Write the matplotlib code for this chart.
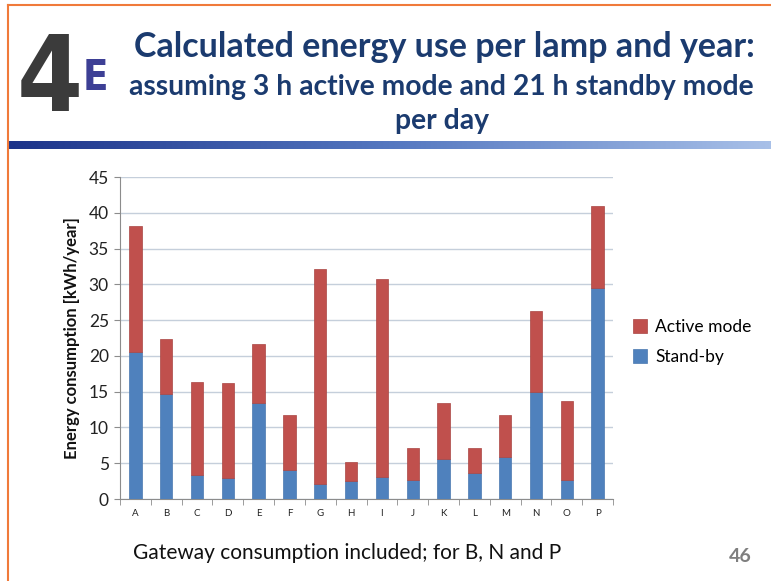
import matplotlib.pyplot as plt
import numpy as np
from matplotlib.colors import LinearSegmentedColormap

lamps = list("ABCDEFGHIJKLMNOP")
standby = [20.5, 14.7, 3.3, 3.0, 13.4, 4.1, 2.1, 2.5, 3.1, 2.6, 5.6, 3.6, 5.9, 15.0, 2.7, 29.5]
total = [38.2, 22.4, 16.3, 16.2, 21.6, 11.8, 32.1, 5.2, 30.7, 7.1, 13.4, 7.1, 11.7, 26.3, 13.7, 41.0]
active = [t - s for t, s in zip(total, standby)]
y_ticks = list(range(0, 50, 5))

W, H = 771, 581
fig = plt.figure(figsize=(W / 100, H / 100), dpi=100)
fig.patch.set_facecolor("white")
plt.rcParams["font.family"] = ["Lato", "DejaVu Sans"]

def px(x, y):
    return x / W, 1 - y / H

# slide frame: orange border, gradient rule under the heading
fig.add_artist(plt.Line2D([8 / W, 1], [1 - 5 / H] * 2, color="#f07a3a", lw=1.5))
fig.add_artist(plt.Line2D([8 / W] * 2, [0, 1 - 5 / H], color="#f07a3a", lw=1.5))
bar_ax = fig.add_axes([8 / W, 1 - 149 / H, 1 - 8 / W, 8 / H])
grad = np.linspace(0, 1, 256)[None, :]
cmap = LinearSegmentedColormap.from_list("rule", ["#1c338a", "#5477c0", "#a8c0e8"])
bar_ax.imshow(grad, aspect="auto", cmap=cmap)
bar_ax.axis("off")

# logo
fig.text(*px(50, 82), "4", fontsize=76, fontweight="bold", color="#3b3b3b",
         ha="center", va="center", family="DejaVu Sans", fontstretch="ultra-condensed")
fig.text(*px(95, 78), "E", fontsize=30, fontweight="bold", color="#3d3f95",
         ha="center", va="center", family="DejaVu Sans", fontstretch="ultra-condensed")

title_c = "#1b3b6f"
fig.text(*px(444, 47), "Calculated energy use per lamp and year:", fontsize=24.5,
         fontweight="bold", color=title_c, ha="center", va="center")
fig.text(*px(441, 87), "assuming 3 h active mode and 21 h standby mode", fontsize=20.3,
         fontweight="bold", color=title_c, ha="center", va="center")
fig.text(*px(442, 121), "per day", fontsize=20.3, fontweight="bold", color=title_c,
         ha="center", va="center")

# chart
ax = fig.add_axes([120 / W, 1 - 499 / H, (613 - 120) / W, (499 - 177) / H])
x = np.arange(len(lamps))
ax.bar(x, standby, width=0.4, color="#4f81bd", edgecolor="#4a78b0", lw=0.5,
       label="Stand-by", zorder=3)
ax.bar(x, active, width=0.4, bottom=standby, color="#c0504d", edgecolor="#a94542",
       lw=0.5, label="Active mode", zorder=3)

ax.set_xlim(-0.5, len(lamps) - 0.5)
ax.set_ylim(0, 45)
ax.set_yticks(y_ticks)
ax.set_xticks(x)
ax.set_xticklabels(lamps, fontsize=7, color="#222222")
ax.set_xticks(np.arange(-0.5, len(lamps)), minor=True)
ax.tick_params(axis="x", which="major", length=0, pad=7)
ax.tick_params(axis="x", which="minor", length=4, color="#8c8c8c")
ax.tick_params(axis="y", length=4, color="#8c8c8c", labelsize=12.5, labelcolor="#222222", pad=4)
ax.grid(axis="y", color="#c5cfdb", lw=1, zorder=0)
for side in ("top", "right"):
    ax.spines[side].set_visible(False)
for side in ("left", "bottom"):
    ax.spines[side].set_color("#8c8c8c")
ax.set_ylabel("Energy consumption [kWh/year]", fontsize=12, fontweight="bold",
              color="#111111", labelpad=6)

handles, labels = ax.get_legend_handles_labels()
fig.legend(handles[::-1], labels[::-1], loc="center left", bbox_to_anchor=px(617, 342),
           frameon=False, fontsize=12.5, handlelength=0.8, handleheight=0.8,
           handletextpad=0.5, labelspacing=0.8)

fig.text(*px(133, 553), "Gateway consumption included; for B, N and P", fontsize=15,
         color="#111111", ha="left", va="center")
fig.text(*px(752, 557), "46", fontsize=14, fontweight="bold", color="#7f7f7f",
         ha="right", va="center")

fig.savefig("out.png", dpi=100)
